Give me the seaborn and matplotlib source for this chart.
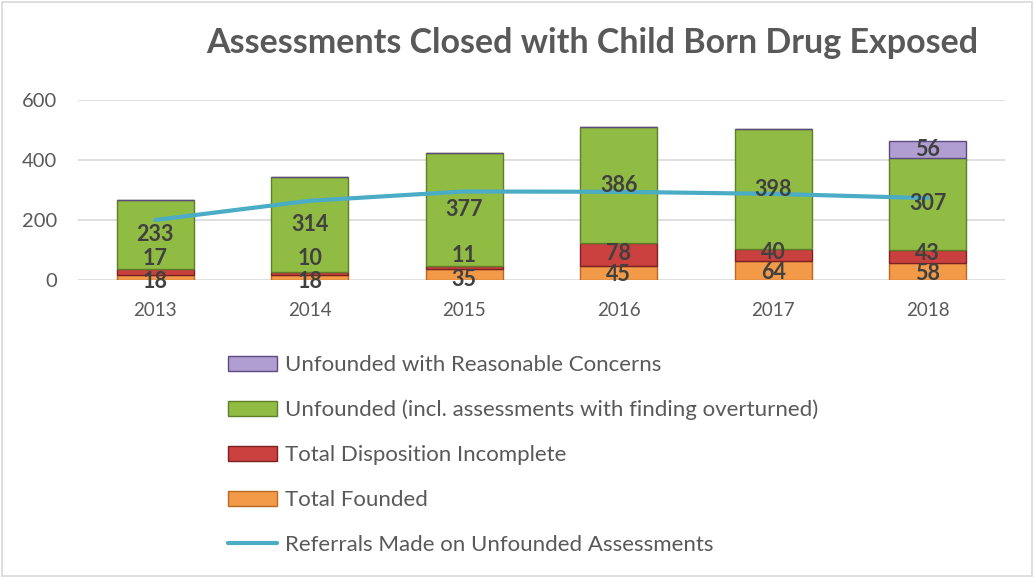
import matplotlib
matplotlib.use("Agg")
import matplotlib.pyplot as plt
import numpy as np
import seaborn as sns
from matplotlib.lines import Line2D
from matplotlib.patches import Patch, Rectangle

YEARS = ["2013", "2014", "2015", "2016", "2017", "2018"]
FOUNDED = [18, 18, 35, 45, 64, 58]
INCOMPLETE = [17, 10, 11, 78, 40, 43]
UNFOUNDED = [233, 314, 377, 386, 398, 307]
CONCERNS = [0, 0, 0, 0, 0, 56]
REFERRALS = [200, 264, 295, 294, 287, 273]

SERIES = [
    ("Total Founded", FOUNDED, "#F39A48", "#B86A25"),
    ("Total Disposition Incomplete", INCOMPLETE, "#C9403E", "#7A2220"),
    ("Unfounded (incl. assessments with finding overturned)", UNFOUNDED, "#90BC44", "#5E7E2A"),
    ("Unfounded with Reasonable Concerns", CONCERNS, "#B19ED0", "#5E4A80"),
]
LINE_NAME = "Referrals Made on Unfounded Assessments"
LINE_COLOR = "#4BACC6"
TEXT_GREY = "#595959"
LABEL_GREY = "#404040"


def label_positions(bottoms, values):
    # centre of each segment, nudged apart where two small ones crowd together
    centres = [b + v / 2 for b, v in zip(bottoms, values)]
    if len(centres) >= 2:
        gap = centres[1] - centres[0]
        if gap < 45:
            centres[0] -= 15
            centres[1] = centres[0] + 78
        elif gap < 68:
            mid = (centres[0] + centres[1]) / 2
            centres = [mid - 34, mid + 34]
    return centres


def main() -> None:
    sns.set_theme(style="white")
    plt.rcParams["font.family"] = ["Lato", "DejaVu Sans"]

    fig = plt.figure(figsize=(10.34, 5.78), dpi=100)
    ax = fig.add_axes([0.0754, 0.5156, 0.8966, 0.3114])

    x = np.arange(len(YEARS))
    bottom = np.zeros(len(YEARS))
    bottoms_per_series = []
    for name, values, color, edge in SERIES:
        vals = np.array(values, dtype=float)
        bottoms_per_series.append(bottom.copy())
        sns.barplot(x=YEARS, y=vals, bottom=bottom, color=color, width=0.5,
                    edgecolor=edge, linewidth=1.0, saturation=1, ax=ax, zorder=2)
        bottom = bottom + vals

    sns.lineplot(x=x, y=REFERRALS, color=LINE_COLOR, linewidth=3, ax=ax, zorder=3)

    # data labels
    for i in range(len(YEARS)):
        low = [bottoms_per_series[0][i], bottoms_per_series[1][i]]
        low_vals = [FOUNDED[i], INCOMPLETE[i]]
        ys = label_positions(low, low_vals)
        for y, v in zip(ys, low_vals):
            ax.text(i, y, str(v), ha="center", va="center", fontsize=15.5,
                    fontweight="bold", color=LABEL_GREY, zorder=4)
        for s in (2, 3):
            v = SERIES[s][1][i]
            if v > 0:
                y = bottoms_per_series[s][i] + v / 2
                ax.text(i, y, str(v), ha="center", va="center", fontsize=15.5,
                        fontweight="bold", color=LABEL_GREY, zorder=4)

    ax.set_xlim(-0.5, len(YEARS) - 0.5)
    ax.set_ylim(0, 600)
    ax.set_yticks([0, 200, 400, 600])
    ax.yaxis.grid(True, color="#D9D9D9", linewidth=1.2)
    ax.xaxis.grid(False)
    ax.set_axisbelow(True)
    for spine in ax.spines.values():
        spine.set_visible(False)
    ax.tick_params(axis="both", length=0, labelcolor=TEXT_GREY)
    ax.tick_params(axis="x", pad=16, labelsize=13.5)
    ax.tick_params(axis="y", pad=15, labelsize=14.5)
    ax.set_xlabel("")
    ax.set_ylabel("")

    fig.text(0.573, 1 - 43 / 578, "Assessments Closed with Child Born Drug Exposed",
             ha="center", va="center", fontsize=24.5, fontweight="bold", color=TEXT_GREY)

    handles = []
    for name, values, color, edge in reversed(SERIES):
        handles.append(Patch(facecolor=color, edgecolor=edge, linewidth=1.0, label=name))
    handles.append(Line2D([0], [0], color=LINE_COLOR, linewidth=3, label=LINE_NAME))
    fig.legend(handles=handles, loc="upper left", bbox_to_anchor=(0.212, 1 - 346 / 578),
               frameon=False, fontsize=16, labelcolor=TEXT_GREY, handlelength=2.2,
               handleheight=0.65, labelspacing=1.12, handletextpad=0.35, borderaxespad=0)

    fig.patches.append(Rectangle((0.002, 0.003), 0.996, 0.994, transform=fig.transFigure,
                                 fill=False, edgecolor="#D9D9D9", linewidth=1.2))

    fig.savefig("out.png", dpi=100)
    plt.close(fig)


if __name__ == "__main__":
    main()
